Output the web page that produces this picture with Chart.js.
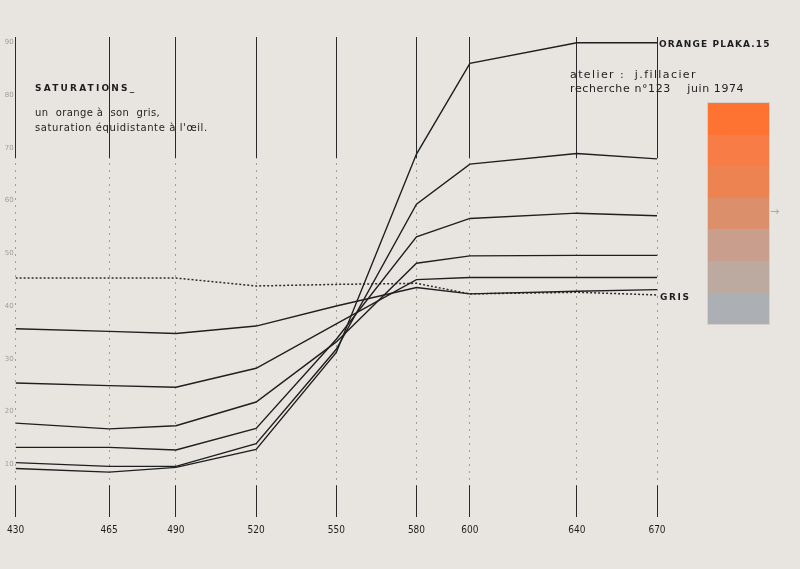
<!DOCTYPE html>
<html>
<head>
<meta charset="utf-8">
<script src="https://cdn.jsdelivr.net/npm/chart.js@4"></script>
<style>
  body { margin: 0; background: #e8e5e0; }
  #wrap { position: relative; width: 800px; height: 569px; }
  .t { position: absolute; font-family: "DejaVu Sans", sans-serif; color: #1e1e1e; white-space: pre; line-height: 12px; }
  .caps { font-size: 9px; font-weight: bold; letter-spacing: 1.6px; }
  .small { font-size: 10px; letter-spacing: 0.4px; }
  #swatch { position: absolute; left: 707px; top: 102px; width: 61px; padding: 1px; background: #d6d0c8; }
  #swatch div { height: 31.6px; }
</style>
</head>
<body>
<div id="wrap">
  <canvas id="grafico"></canvas>

  <div class="t caps" style="left:35px; top:82px; letter-spacing:2.2px">SATURATIONS_</div>
  <div class="t small" style="left:35px; top:107px">un  orange à  son  gris,</div>
  <div class="t small" style="left:35px; top:122px; letter-spacing:0.6px">saturation équidistante à l'œil.</div>

  <div class="t caps" style="left:659px; top:38px; letter-spacing:1.1px">ORANGE PLAKA.15</div>
  <div class="t small" style="left:570px; top:69px; font-size:11px; letter-spacing:1.4px">atelier :  j.fillacier</div>
  <div class="t small" style="left:570px; top:83px; font-size:11px; letter-spacing:0.6px">recherche n°123    juin 1974</div>
  <div class="t caps" style="left:660px; top:291px">GRIS</div>
  <div class="t" style="left:770px; top:206px; font-size:11px; color:#aaa">→</div>

  <div id="swatch">
    <div style="background:#ff7332"></div>
    <div style="background:#f77c45"></div>
    <div style="background:#ee8352"></div>
    <div style="background:#dc8f6b"></div>
    <div style="background:#c99e8c"></div>
    <div style="background:#bcaaa0"></div>
    <div style="background:#acafb3"></div>
  </div>
</div>

<script>
// dados
const longueurs = [430, 465, 490, 520, 550, 580, 600, 640, 670];
const graduations = [10, 20, 30, 40, 50, 60, 70, 80, 90];

// du plus saturé (orange plaka 15) au moins saturé
const orange1 = [9.2, 8.5, 9.4, 12.8, 31.2, 68.8, 86.0, 89.9, 89.9];
const orange2 = [10.3, 9.6, 9.6, 13.9, 31.8, 59.3, 66.9, 68.9, 67.9];
const orange3 = [13.2, 13.2, 12.7, 16.8, 33.7, 53.1, 56.6, 57.6, 57.1];
const orange4 = [17.8, 16.7, 17.3, 21.8, 33.2, 48.1, 49.5, 49.6, 49.6];
const orange5 = [25.4, 24.9, 24.6, 28.2, 36.6, 45.0, 45.4, 45.4, 45.4];
const orange6 = [35.7, 35.2, 34.8, 36.2, 40.0, 43.5, 42.3, 42.8, 43.1];
const gris = [45.3, 45.3, 45.3, 43.8, 44.1, 44.3, 42.3, 42.6, 42.1];

const courbes = [orange1, orange2, orange3, orange4, orange5, orange6];

const pontos = serie => serie.map((v, i) => ({ x: longueurs[i], y: v }));

const datasets = courbes.map(serie => ({
    data: pontos(serie),
    borderColor: '#1f1f1f',
    borderWidth: 1.4,
    pointRadius: 0,
    tension: 0
}));

datasets.push({
    data: pontos(gris),
    borderColor: '#2b2b2b',
    borderWidth: 1.5,
    borderDash: [2, 2],
    pointRadius: 0,
    tension: 0
});

// traits pleins en haut et en bas des verticales
const traits = {
    id: 'traits',
    beforeDatasetsDraw(chart) {
        const { ctx, scales: { x, y } } = chart;
        ctx.save();
        ctx.strokeStyle = '#2a2a2a';
        ctx.lineWidth = 1;
        x.ticks.forEach(t => {
            const px = Math.round(x.getPixelForValue(t.value) - 0.5) + 0.5;
            ctx.beginPath();
            ctx.moveTo(px, y.getPixelForValue(91));
            ctx.lineTo(px, y.getPixelForValue(68));
            ctx.moveTo(px, y.getPixelForValue(6));
            ctx.lineTo(px, y.getPixelForValue(0));
            ctx.stroke();
        });
        ctx.restore();
    }
};

// grafico
new Chart(document.getElementById('grafico'), {
    type: 'line',
    data: { datasets },
    plugins: [traits],
    options: {
        responsive: true,
        maintainAspectRatio: false,
        animation: false,
        layout: { padding: { top: 37, right: 143, bottom: 22, left: 0 } },
        plugins: {
            legend: { display: false },
            tooltip: { enabled: false }
        },
        scales: {
            x: {
                type: 'linear',
                min: 430,
                max: 670,
                afterBuildTicks: scale => { scale.ticks = longueurs.map(v => ({ value: v })); },
                afterFit: scale => { scale.height = 30; },
                grid: { color: '#a19d97', lineWidth: 1, drawTicks: false },
                border: { display: false, dash: [2, 5] },
                ticks: {
                    padding: 7,
                    maxRotation: 0,
                    autoSkip: false,
                    color: '#1e1e1e',
                    font: { family: 'Liberation Sans Narrow, DejaVu Sans Condensed, sans-serif', size: 10 }
                }
            },
            y: {
                min: 0,
                max: 91,
                afterBuildTicks: scale => { scale.ticks = graduations.map(v => ({ value: v })); },
                afterFit: scale => { scale.width = 15; },
                grid: { display: false, drawTicks: false },
                border: { display: false },
                ticks: {
                    padding: 2,
                    color: '#a09c96',
                    font: { family: 'DejaVu Sans', size: 7 }
                }
            }
        }
    }
});
</script>
</body>
</html>
